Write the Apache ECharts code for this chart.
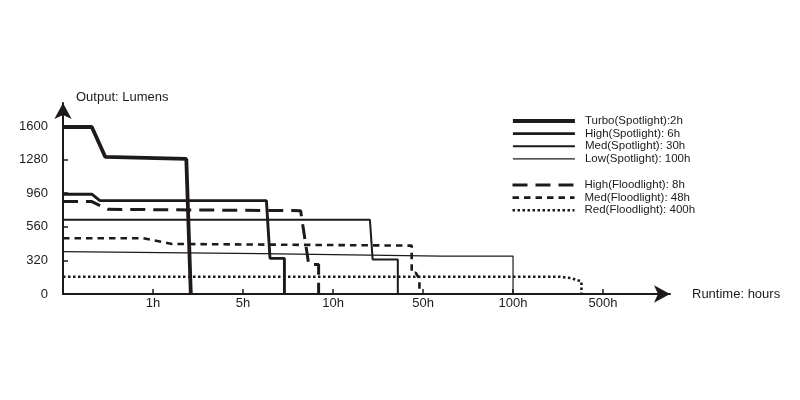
<!DOCTYPE html>
<html>
<head>
<meta charset="utf-8">
<script src="https://cdn.jsdelivr.net/npm/echarts@6/dist/echarts.min.js"></script>
<style>html,body{margin:0;padding:0;background:#fff}#c{width:800px;height:400px}</style>
</head>
<body>
<div id="c"></div>
<script>
// Tick labels (axes are drawn as equally spaced steps; data below in step units)
const xLabels = ['1h', '5h', '10h', '50h', '100h', '500h']; // at x = 1..6
const yLabels = ['0', '320', '560', '960', '1280', '1600']; // at y = 0..5

const seriesNames = [
  'Turbo(Spotlight):2h',
  'High(Spotlight): 6h',
  'Med(Spotlight): 30h',
  'Low(Spotlight): 100h',
  'High(Floodlight): 8h',
  'Med(Floodlight): 48h',
  'Red(Floodlight): 400h'
];

// [x step position, y step position]
const turboSpot = [[0, 4.97], [0.32, 4.97], [0.47, 4.08], [1.37, 4.02], [1.42, 0]];
const highSpot = [[0, 2.97], [0.32, 2.97], [0.41, 2.78], [2.26, 2.78], [2.30, 1.06], [2.46, 1.06], [2.46, 0]];
const medSpot = [[0, 2.21], [3.41, 2.21], [3.44, 1.03], [3.72, 1.03], [3.72, 0]];
const lowSpot = [[0, 1.26], [2.2, 1.20], [4.2, 1.13], [5.0, 1.13], [5.0, 0]];
const highFlood = [[0, 2.75], [0.32, 2.75], [0.50, 2.52], [2.64, 2.48], [2.73, 0.88], [2.84, 0.88], [2.84, 0]];
const medFlood = [[0, 1.66], [0.89, 1.66], [1.21, 1.49], [3.874, 1.44], [3.874, 0.63], [3.92, 0.63], [3.96, 0.45], [3.96, 0]];
const redFlood = [[0, 0.515], [5.52, 0.515], [5.65, 0.47], [5.76, 0.37], [5.76, 0]];

const C = '#1e1a1a';
const FONT = 'Liberation Sans';

function mk(name, data, width, type, z) {
  return {
    name: name, type: 'line', data: data, symbol: 'none', z: z,
    lineStyle: { color: C, width: width, type: type, cap: 'butt' },
    itemStyle: { color: C, opacity: 0 },
    animation: false
  };
}

function legendBlock(names, top) {
  return {
    data: names, orient: 'vertical', left: 506, top: top,
    itemWidth: 62, itemHeight: 12, itemGap: 0.6, selectedMode: false,
    itemStyle: { opacity: 0 },
    lineStyle: { width: 'inherit', type: 'inherit', opacity: 1 },
    textStyle: { fontFamily: FONT, fontSize: 11.5, color: C, padding: [0, 0, 0, 5] }
  };
}

const chart = echarts.init(document.getElementById('c'), null, { renderer: 'canvas' });
chart.setOption({
  animation: false,
  textStyle: { fontFamily: FONT, color: C },
  grid: { left: 63, right: 130, top: 103, bottom: 106 },
  xAxis: {
    type: 'value', min: 0, max: 6.744,
    name: 'Runtime: hours', nameLocation: 'end', nameGap: 22,
    nameTextStyle: { fontFamily: FONT, fontSize: 13, color: C, align: 'left', verticalAlign: 'middle', padding: [6, 0, 0, 0] },
    axisLine: { lineStyle: { color: C, width: 2 }, symbol: ['none', 'arrow'], symbolSize: [13, 16] },
    axisTick: { show: true, inside: true, length: 5, lineStyle: { color: C, width: 1.5 }, customValues: [1, 2, 3, 4, 5, 6] },
    axisLabel: { fontFamily: FONT, fontSize: 13, color: C, margin: 3, customValues: [1, 2, 3, 4, 5, 6],
      formatter: function (v) { return xLabels[Math.round(v) - 1] || ''; } },
    splitLine: { show: false }
  },
  yAxis: {
    type: 'value', min: 0, max: 5.685,
    name: 'Output: Lumens', nameLocation: 'end', nameGap: 6,
    nameTextStyle: { fontFamily: FONT, fontSize: 13, color: C, align: 'left', verticalAlign: 'middle', padding: [0, 0, 0, 13] },
    axisLine: { show: true, lineStyle: { color: C, width: 2 }, symbol: ['none', 'arrow'], symbolSize: [13, 16] },
    axisTick: { show: true, inside: true, length: 5, lineStyle: { color: C, width: 1.5 }, customValues: [1, 2, 3, 4, 5] },
    axisLabel: { fontFamily: FONT, fontSize: 13, color: C, margin: 15, customValues: [0, 1, 2, 3, 4, 5],
      formatter: function (v) { return yLabels[Math.round(v)] || ''; } },
    splitLine: { show: false }
  },
  legend: [
    legendBlock(seriesNames.slice(0, 4), 110),
    legendBlock(seriesNames.slice(4), 174)
  ],
  series: [
    mk(seriesNames[0], turboSpot, 3.8, 'solid', 10),
    mk(seriesNames[1], highSpot, 2.9, 'solid', 9),
    mk(seriesNames[2], medSpot, 2, 'solid', 8),
    mk(seriesNames[3], lowSpot, 1.2, 'solid', 7),
    mk(seriesNames[4], highFlood, 3, [15, 8], 6),
    mk(seriesNames[5], medFlood, 2.6, [6.5, 5], 5),
    mk(seriesNames[6], redFlood, 2.6, [2.5, 2.5], 4)
  ]
});
</script>
</body>
</html>
